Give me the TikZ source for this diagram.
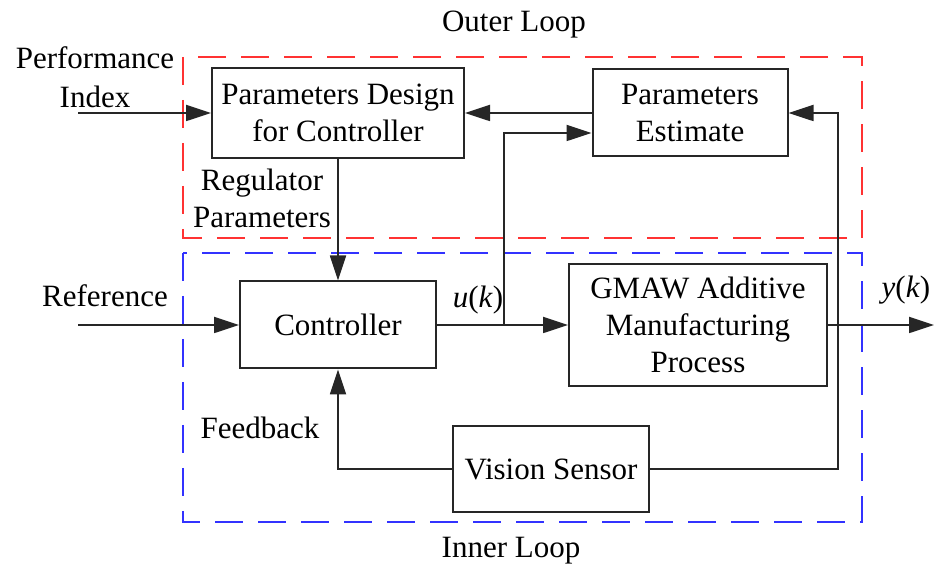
\documentclass[tikz,border=0pt]{standalone}
\usepackage{fontspec}
\setmainfont{Liberation Serif}
\usetikzlibrary{positioning, arrows.meta, calc}
\definecolor{outred}{RGB}{255,50,50}
\definecolor{innblue}{RGB}{50,50,255}
\tikzset{
  blockbox/.style = {draw=black!85, line width=1pt, fill=white,
                     align=center, inner sep=2pt},
  sigarr/.style   = {-{Triangle[length=12.5pt, width=8pt]}, line width=0.9pt, black!85},
  sigline/.style  = {line width=0.9pt, black!85},
  loopbox/.style  = {line width=1pt, dash pattern=on 14pt off 7.5pt},
  lbl/.style      = {align=center},
}

\begin{document}
\begin{tikzpicture}[x=0.5pt, y=-0.5pt, font=\fontsize{15.5}{19.5}\selectfont]
    \useasboundingbox (0,0) rectangle (934,571);
    % Loop frames
    \draw[loopbox, outred] (183,57) rectangle (862,238);
    \draw[loopbox, innblue] (183,253) rectangle (862,522);
    \node[lbl] (outer) at (514,25) {Outer Loop};
    \node[lbl] (inner) at (511,551) {Inner Loop};
    % Blocks
    \node[blockbox, minimum width=126pt, minimum height=45pt] (pd) at (338,113)
      {Parameters Design\\[-1pt]for Controller};
    \node[blockbox, minimum width=97.5pt, minimum height=43.5pt] (pe) at (690,113)
      {Parameters\\[-1pt]Estimate};
    \node[blockbox, minimum width=98pt, minimum height=43.5pt] (ctrl) at (338,325)
      {Controller};
    \node[blockbox, minimum width=129pt, minimum height=61pt] (gmaw) at (698,325)
      {GMAW Additive\\[-1pt]Manufacturing\\[-1pt]Process};
    \node[blockbox, minimum width=98pt, minimum height=43pt] (vs) at (551,469)
      {Vision Sensor};
    % Labels
    \node[lbl] (perf) at (95,77) {Performance\\Index};
    \node[lbl] (regpar) at (262,198) {Regulator\\[-1pt]Parameters};
    \node[lbl] (refl) at (105,296) {Reference};
    \node[lbl] (fbl) at (260,428) {Feedback};
    \node[lbl] (ul) at (478,300) {\textit{u}(\textit{k})};
    \node[lbl] (yl) at (906,290) {\textit{y}(\textit{k})};
    % Free ends and branch points
    \coordinate (perfin) at (78,113);
    \coordinate (refin) at (78,325);
    \coordinate (yout) at (934,325);
    \coordinate (ubr) at (504,325);
    \coordinate (ybr) at (838,325);
    % Connectors
    \draw[sigarr] (perfin) -- (pd.west);
    \draw[sigarr] (pe.west) -- (pd.east);
    \draw[sigarr] (pd.south) -- (ctrl.north);
    \draw[sigarr] (refin) -- (ctrl.west);
    \draw[sigarr] (ctrl.east) -- (gmaw.west);
    \draw[sigarr] (ubr) |- ($(pe.west)+(0,20)$);
    \draw[sigarr] (gmaw.east) -- (yout);
    \draw[sigarr] (ybr) |- (pe.east);
    \draw[sigline] (ybr) |- (vs.east);
    \draw[sigarr] (vs.west) -| (ctrl.south);
  \end{tikzpicture}
\end{document}
